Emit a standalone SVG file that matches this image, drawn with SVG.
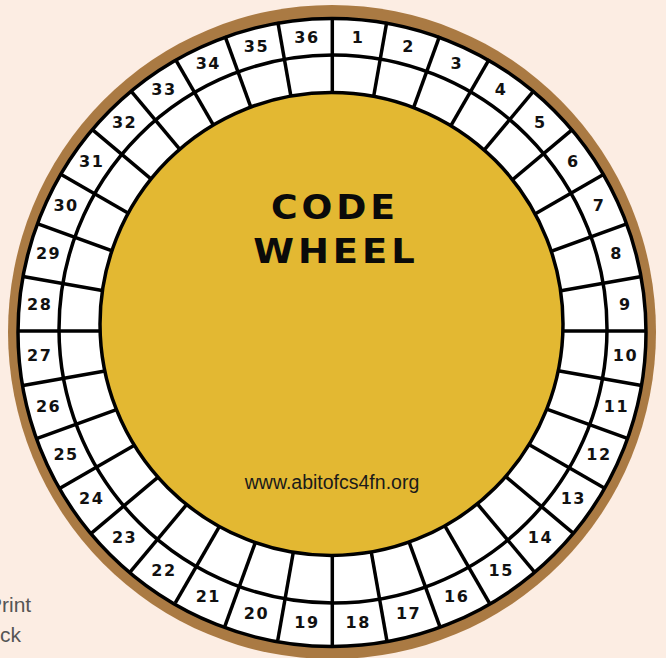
<svg xmlns="http://www.w3.org/2000/svg" xmlns:xlink="http://www.w3.org/1999/xlink" width="666" height="658" viewBox="0 0 666 658">
<style>
.ln{stroke:#000;stroke-width:3.5;fill:none}
.num{font-family:"DejaVu Sans",sans-serif;font-weight:bold;font-size:16px;letter-spacing:1.5px;text-anchor:middle;fill:#111}
.title{font-family:"DejaVu Sans",sans-serif;font-weight:bold;font-size:33px;letter-spacing:3.5px;text-anchor:middle;fill:#0a0a0a}
.url{font-family:"Liberation Sans",Arial,sans-serif;font-size:19.5px;text-anchor:middle;fill:#1a1a1a}
.side{font-family:"Liberation Sans",Arial,sans-serif;font-size:21px;fill:#555}
</style>
<defs>
<line id="spoke" x1="0" y1="-215" x2="0" y2="-314" class="ln"/>
</defs>
<rect x="0" y="0" width="666" height="658" fill="#FCEDE3"/>
<g id="wheel">
<ellipse cx="332" cy="332" rx="324" ry="327" fill="#AA7A43"/>
<circle cx="332" cy="332.5" r="314" fill="#FFFFFF"/>
</g>
<g id="connectors" transform="translate(332.3,331)">
<use xlink:href="#spoke" transform="rotate(0)"/>
<use xlink:href="#spoke" transform="rotate(10)"/>
<use xlink:href="#spoke" transform="rotate(20)"/>
<use xlink:href="#spoke" transform="rotate(30)"/>
<use xlink:href="#spoke" transform="rotate(40)"/>
<use xlink:href="#spoke" transform="rotate(50)"/>
<use xlink:href="#spoke" transform="rotate(60)"/>
<use xlink:href="#spoke" transform="rotate(70)"/>
<use xlink:href="#spoke" transform="rotate(80)"/>
<use xlink:href="#spoke" transform="rotate(90)"/>
<use xlink:href="#spoke" transform="rotate(100)"/>
<use xlink:href="#spoke" transform="rotate(110)"/>
<use xlink:href="#spoke" transform="rotate(120)"/>
<use xlink:href="#spoke" transform="rotate(130)"/>
<use xlink:href="#spoke" transform="rotate(140)"/>
<use xlink:href="#spoke" transform="rotate(150)"/>
<use xlink:href="#spoke" transform="rotate(160)"/>
<use xlink:href="#spoke" transform="rotate(170)"/>
<use xlink:href="#spoke" transform="rotate(180)"/>
<use xlink:href="#spoke" transform="rotate(190)"/>
<use xlink:href="#spoke" transform="rotate(200)"/>
<use xlink:href="#spoke" transform="rotate(210)"/>
<use xlink:href="#spoke" transform="rotate(220)"/>
<use xlink:href="#spoke" transform="rotate(230)"/>
<use xlink:href="#spoke" transform="rotate(240)"/>
<use xlink:href="#spoke" transform="rotate(250)"/>
<use xlink:href="#spoke" transform="rotate(260)"/>
<use xlink:href="#spoke" transform="rotate(270)"/>
<use xlink:href="#spoke" transform="rotate(280)"/>
<use xlink:href="#spoke" transform="rotate(290)"/>
<use xlink:href="#spoke" transform="rotate(300)"/>
<use xlink:href="#spoke" transform="rotate(310)"/>
<use xlink:href="#spoke" transform="rotate(320)"/>
<use xlink:href="#spoke" transform="rotate(330)"/>
<use xlink:href="#spoke" transform="rotate(340)"/>
<use xlink:href="#spoke" transform="rotate(350)"/>
</g>
<g id="rings">
<circle cx="333" cy="329" r="274" class="ln"/>
<circle id="centre" cx="331.5" cy="324" r="231.5" fill="#E3B832" stroke="#000" stroke-width="3.5"/>
<circle cx="332" cy="332.5" r="314" class="ln" stroke-width="4"/>
</g>
<g id="numbers" class="num">
<text transform="translate(332.5,329.5) rotate(5) translate(0,-294) rotate(-5)" y="6">1</text>
<text transform="translate(332.5,329.5) rotate(15) translate(0,-294) rotate(-15)" y="6">2</text>
<text transform="translate(332.5,329.5) rotate(25) translate(0,-294) rotate(-25)" y="6">3</text>
<text transform="translate(332.5,329.5) rotate(35) translate(0,-294) rotate(-35)" y="6">4</text>
<text transform="translate(332.5,329.5) rotate(45) translate(0,-294) rotate(-45)" y="6">5</text>
<text transform="translate(332.5,329.5) rotate(55) translate(0,-294) rotate(-55)" y="6">6</text>
<text transform="translate(332.5,329.5) rotate(65) translate(0,-294) rotate(-65)" y="6">7</text>
<text transform="translate(332.5,329.5) rotate(75) translate(0,-294) rotate(-75)" y="6">8</text>
<text transform="translate(332.5,329.5) rotate(85) translate(0,-294) rotate(-85)" y="6">9</text>
<text transform="translate(332.5,329.5) rotate(95) translate(0,-294) rotate(-95)" y="6">10</text>
<text transform="translate(332.5,329.5) rotate(105) translate(0,-294) rotate(-105)" y="6">11</text>
<text transform="translate(332.5,329.5) rotate(115) translate(0,-294) rotate(-115)" y="6">12</text>
<text transform="translate(332.5,329.5) rotate(125) translate(0,-294) rotate(-125)" y="6">13</text>
<text transform="translate(332.5,329.5) rotate(135) translate(0,-294) rotate(-135)" y="6">14</text>
<text transform="translate(332.5,329.5) rotate(145) translate(0,-294) rotate(-145)" y="6">15</text>
<text transform="translate(332.5,329.5) rotate(155) translate(0,-294) rotate(-155)" y="6">16</text>
<text transform="translate(332.5,329.5) rotate(165) translate(0,-294) rotate(-165)" y="6">17</text>
<text transform="translate(332.5,329.5) rotate(175) translate(0,-294) rotate(-175)" y="6">18</text>
<text transform="translate(332.5,329.5) rotate(185) translate(0,-294) rotate(-185)" y="6">19</text>
<text transform="translate(332.5,329.5) rotate(195) translate(0,-294) rotate(-195)" y="6">20</text>
<text transform="translate(332.5,329.5) rotate(205) translate(0,-294) rotate(-205)" y="6">21</text>
<text transform="translate(332.5,329.5) rotate(215) translate(0,-294) rotate(-215)" y="6">22</text>
<text transform="translate(332.5,329.5) rotate(225) translate(0,-294) rotate(-225)" y="6">23</text>
<text transform="translate(332.5,329.5) rotate(235) translate(0,-294) rotate(-235)" y="6">24</text>
<text transform="translate(332.5,329.5) rotate(245) translate(0,-294) rotate(-245)" y="6">25</text>
<text transform="translate(332.5,329.5) rotate(255) translate(0,-294) rotate(-255)" y="6">26</text>
<text transform="translate(332.5,329.5) rotate(265) translate(0,-294) rotate(-265)" y="6">27</text>
<text transform="translate(332.5,329.5) rotate(275) translate(0,-294) rotate(-275)" y="6">28</text>
<text transform="translate(332.5,329.5) rotate(285) translate(0,-294) rotate(-285)" y="6">29</text>
<text transform="translate(332.5,329.5) rotate(295) translate(0,-294) rotate(-295)" y="6">30</text>
<text transform="translate(332.5,329.5) rotate(305) translate(0,-294) rotate(-305)" y="6">31</text>
<text transform="translate(332.5,329.5) rotate(315) translate(0,-294) rotate(-315)" y="6">32</text>
<text transform="translate(332.5,329.5) rotate(325) translate(0,-294) rotate(-325)" y="6">33</text>
<text transform="translate(332.5,329.5) rotate(335) translate(0,-294) rotate(-335)" y="6">34</text>
<text transform="translate(332.5,329.5) rotate(345) translate(0,-294) rotate(-345)" y="6">35</text>
<text transform="translate(332.5,329.5) rotate(355) translate(0,-294) rotate(-355)" y="6">36</text>
</g>
<g id="title" class="title">
<text transform="translate(335,219) scale(1.1,1)">CODE</text>
<text transform="translate(336,263) scale(1.12,1)">WHEEL</text>
</g>
<g id="url">
<text class="url" x="332" y="489">www.abitofcs4fn.org</text>
</g>
<g id="side-note" class="side">
<text x="-12" y="612">Print</text>
<text x="0" y="642">ck</text>
</g>
</svg>
